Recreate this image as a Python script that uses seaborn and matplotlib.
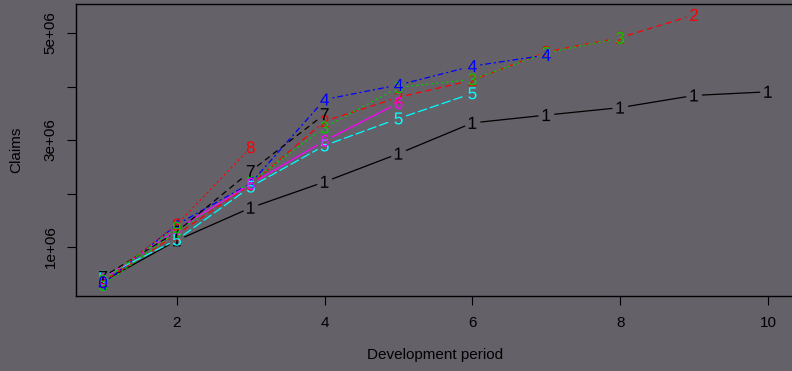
import numpy as np
import pandas as pd
import seaborn as sns
import matplotlib.pyplot as plt

# cumulative claims triangle, one list per origin period
dev = list(range(1, 11))
origin_1 = [357848, 1124788, 1735330, 2218270, 2745596, 3319994, 3466336, 3606286, 3833515, 3901463]
origin_2 = [352118, 1236139, 2170033, 3353322, 3799067, 4120063, 4647867, 4914039, 5339085]
origin_3 = [290507, 1292306, 2218525, 3235179, 3985995, 4132918, 4628910, 4909315]
origin_4 = [310608, 1418858, 2195047, 3757447, 4029929, 4381982, 4588268]
origin_5 = [443160, 1136350, 2128333, 2897821, 3402672, 3873311]
origin_6 = [396132, 1333217, 2180715, 2985752, 3691712]
origin_7 = [440832, 1288463, 2419861, 3483130]
origin_8 = [359480, 1421128, 2864498]
origin_9 = [376686, 1363294]
origin_10 = [344014]
rows = [origin_1, origin_2, origin_3, origin_4, origin_5,
        origin_6, origin_7, origin_8, origin_9, origin_10]
symbols = ["1", "2", "3", "4", "5", "6", "7", "8", "9", "0"]

# R matplot defaults: col = 1:6, lty = 1:5
r_cols = ["black", "#FF0000", "#00CD00", "#0000FF", "#00FFFF", "#FF00FF"]
r_ltys = ["-", (0, (4, 4)), (0, (1, 3)), (0, (1, 3, 4, 3)), (0, (7, 3))]

records = []
for i, r in enumerate(rows):
    for j, v in enumerate(r):
        records.append({"origin": symbols[i], "dev": dev[j], "claims": v})
df = pd.DataFrame(records)

bg = "#646169"
sns.set_style("white")
plt.rcParams["font.family"] = ["Liberation Sans", "DejaVu Sans"]
plt.rcParams["mathtext.fontset"] = "custom"
plt.rcParams["mathtext.rm"] = "Liberation Sans"
plt.rcParams["mathtext.it"] = "Liberation Sans"

fig = plt.figure(figsize=(7.92, 3.71), dpi=100, facecolor=bg)
ax = fig.add_axes([0.0965, 0.2027, 0.9068, 0.7863], facecolor=bg)

ymin, ymax = min(min(r) for r in rows), max(max(r) for r in rows)
pad = 0.04 * (ymax - ymin)
ax.set_xlim(1 - 0.36, 10 + 0.36)
ax.set_ylim(ymin - pad, ymax + pad)

# type="b": segments with a gap around each point
for i, r in enumerate(rows):
    col = r_cols[i % 6]
    ls = r_ltys[i % 5]
    for j in range(len(r) - 1):
        ax.annotate("", xy=(dev[j + 1], r[j + 1]), xytext=(dev[j], r[j]),
                    arrowprops=dict(arrowstyle="-", color=col, lw=0.9,
                                    linestyle=ls, shrinkA=6, shrinkB=6))

palette = {s: r_cols[i % 6] for i, s in enumerate(symbols)}
markers = {s: "$" + s + "$" for s in symbols}
sns.scatterplot(data=df, x="dev", y="claims", hue="origin", style="origin",
                palette=palette, markers=markers, s=75, linewidth=0,
                legend=False, ax=ax, zorder=3)

ax.set_xticks([2, 4, 6, 8, 10])
ax.set_xticklabels(["2", "4", "6", "8", "10"])
ax.set_yticks([1e6, 2e6, 3e6, 4e6, 5e6])
ax.set_yticklabels(["1e+06", "", "3e+06", "", "5e+06"], rotation=90, va="center")
ax.tick_params(axis="both", direction="out", length=6.5, width=0.8, color="black",
               labelsize=11, labelcolor="black")
ax.tick_params(axis="y", pad=7)
ax.tick_params(axis="x", pad=8)
ax.tick_params(left=True, bottom=True)
for sp in ax.spines.values():
    sp.set_color("black")
    sp.set_linewidth(1.0)
ax.set_xlabel("Development period", fontsize=11, labelpad=13, color="black")
ax.set_ylabel("Claims", fontsize=11, labelpad=15, color="black")

fig.savefig("out.png", dpi=100, facecolor=bg)
